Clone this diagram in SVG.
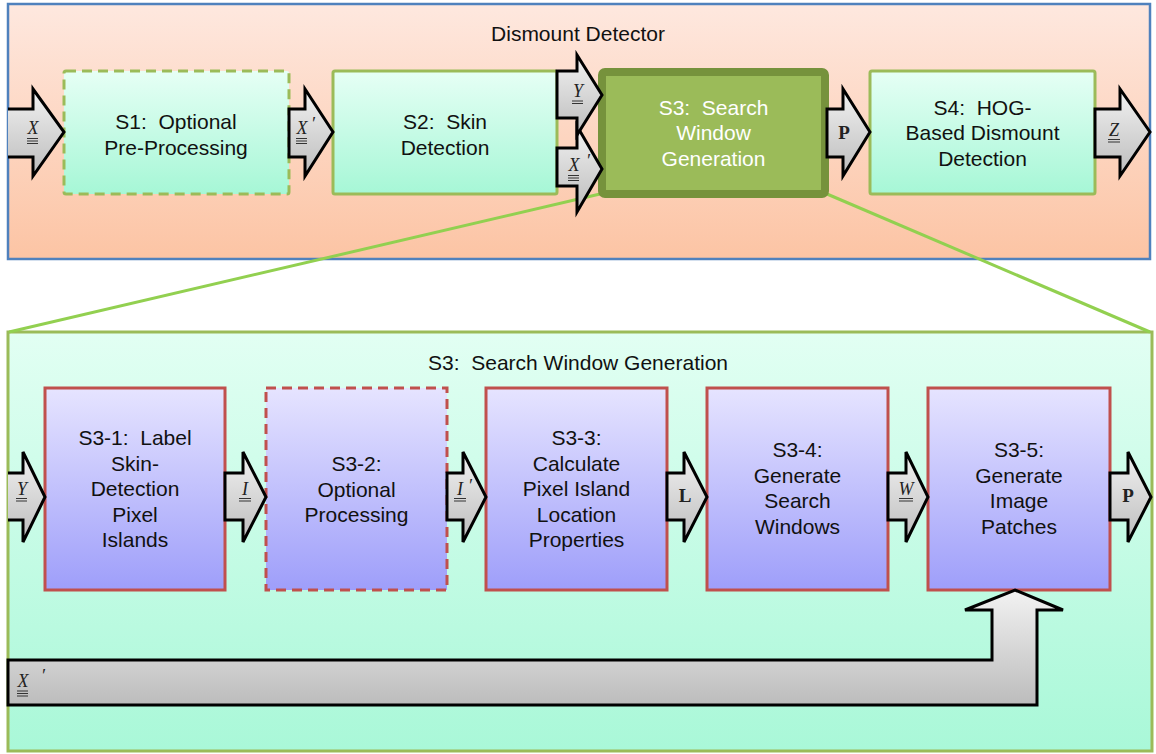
<svg xmlns="http://www.w3.org/2000/svg" width="1156" height="754" viewBox="0 0 1156 754">
<defs>
<linearGradient id="gPeach" x1="0" y1="0" x2="0" y2="1"><stop offset="0" stop-color="#fee8df"/><stop offset="1" stop-color="#fcc4a4"/></linearGradient>
<linearGradient id="gMint" x1="0" y1="0" x2="0" y2="1"><stop offset="0" stop-color="#e6fff5"/><stop offset="1" stop-color="#a6f7d6"/></linearGradient>
<linearGradient id="gMintBg" x1="0" y1="0" x2="0" y2="1"><stop offset="0" stop-color="#e2fff3"/><stop offset="1" stop-color="#a9f8d8"/></linearGradient>
<linearGradient id="gLav" x1="0" y1="0" x2="0" y2="1"><stop offset="0" stop-color="#e6e4ff"/><stop offset="1" stop-color="#9e9efa"/></linearGradient>
<linearGradient id="gGray" x1="0" y1="0" x2="0" y2="1"><stop offset="0" stop-color="#f2f2f2"/><stop offset="1" stop-color="#bcbcbc"/></linearGradient>
</defs>
<style>
.t{font-family:"Liberation Sans",Arial,sans-serif;font-size:21px;fill:#111;text-anchor:middle}
.tw{fill:#ffffff}
.m{font-family:"Liberation Serif","Times New Roman",serif;font-style:italic;font-size:18px;fill:#222;text-anchor:middle}
.b{font-family:"Liberation Serif","Times New Roman",serif;font-weight:bold;font-size:19px;fill:#222;text-anchor:middle}
.u{stroke:#333;stroke-width:1}
.arr{fill:url(#gGray);stroke:#000;stroke-width:3;stroke-linejoin:miter}
.gbox{fill:url(#gMint);stroke:#9bbb59;stroke-width:3}
.rbox{fill:url(#gLav);stroke:#c0504d;stroke-width:3}
.dash{stroke-dasharray:10 6}
.zl{stroke:#92d050;stroke-width:3;fill:none}
</style>

<g id="dismount-detector">
<rect x="8" y="4" width="1142" height="255" fill="url(#gPeach)" stroke="#4f81bd" stroke-width="2.5"/>
<text class="t" x="578" y="41">Dismount Detector</text>
</g>

<g id="s3-detail">
<rect x="8" y="332" width="1144" height="419" fill="url(#gMintBg)" stroke="#9bbb59" stroke-width="3"/>
<text class="t" x="578" y="370" xml:space="preserve">S3:  Search Window Generation</text>
</g>

<g id="zoom-lines">
<line class="zl" x1="600" y1="194" x2="9" y2="332"/>
<line class="zl" x1="827" y1="194" x2="1150" y2="332"/>
</g>

<g id="s1">
<rect class="gbox dash" x="64" y="71" width="225" height="123" rx="2"/>
<text class="t" x="176" y="128.5" xml:space="preserve">S1:  Optional</text>
<text class="t" x="176" y="154.5">Pre-Processing</text>
</g>
<g id="s2">
<rect class="gbox" x="333" y="71" width="224" height="123" rx="2"/>
<text class="t" x="445" y="128.5" xml:space="preserve">S2:  Skin</text>
<text class="t" x="445" y="154.5">Detection</text>
</g>
<g id="s3">
<rect x="602" y="72" width="223" height="122" rx="3" fill="#9bbb59" stroke="#76923c" stroke-width="8"/>
<text class="t tw" x="713.5" y="114.5" xml:space="preserve">S3:  Search</text>
<text class="t tw" x="713.5" y="140">Window</text>
<text class="t tw" x="713.5" y="165.5">Generation</text>
</g>
<g id="s4">
<rect class="gbox" x="870" y="71" width="225" height="123" rx="2"/>
<text class="t" x="982.5" y="114.5" xml:space="preserve">S4:  HOG-</text>
<text class="t" x="982.5" y="140">Based Dismount</text>
<text class="t" x="982.5" y="165.5">Detection</text>
</g>

<g id="s3-1">
<rect class="rbox" x="45" y="388" width="180" height="202"/>
<text class="t" x="135" y="445" xml:space="preserve">S3-1:  Label</text>
<text class="t" x="135" y="470.5">Skin-</text>
<text class="t" x="135" y="496">Detection</text>
<text class="t" x="135" y="521.5">Pixel</text>
<text class="t" x="135" y="547">Islands</text>
</g>
<g id="s3-2">
<rect class="rbox dash" x="266" y="388" width="181" height="202"/>
<text class="t" x="356.5" y="471">S3-2:</text>
<text class="t" x="356.5" y="496.5">Optional</text>
<text class="t" x="356.5" y="522">Processing</text>
</g>
<g id="s3-3">
<rect class="rbox" x="486" y="388" width="181" height="202"/>
<text class="t" x="576.5" y="445">S3-3:</text>
<text class="t" x="576.5" y="470.5">Calculate</text>
<text class="t" x="576.5" y="496">Pixel Island</text>
<text class="t" x="576.5" y="521.5">Location</text>
<text class="t" x="576.5" y="547">Properties</text>
</g>
<g id="s3-4">
<rect class="rbox" x="707" y="388" width="181" height="202"/>
<text class="t" x="797.5" y="457">S3-4:</text>
<text class="t" x="797.5" y="482.5">Generate</text>
<text class="t" x="797.5" y="508">Search</text>
<text class="t" x="797.5" y="533.5">Windows</text>
</g>
<g id="s3-5">
<rect class="rbox" x="928" y="388" width="182" height="202"/>
<text class="t" x="1019" y="457">S3-5:</text>
<text class="t" x="1019" y="482.5">Generate</text>
<text class="t" x="1019" y="508">Image</text>
<text class="t" x="1019" y="533.5">Patches</text>
</g>

<g id="connectors">
<!-- top row -->
<path class="arr" d="M8,109 H33 V89 L64,132 L33,176 V157 H8"/>
<text class="m" x="33" y="134">X</text>
<line class="u" x1="27" y1="138.5" x2="38" y2="138.5"/><line class="u" x1="27" y1="141" x2="38" y2="141"/><line class="u" x1="27" y1="143.5" x2="38" y2="143.5"/>

<path class="arr" d="M289,109 H305 V89 L333,132 L305,176 V157 H289 Z"/>
<text class="m" x="302" y="134">X</text><text class="m" x="313" y="130">′</text>
<line class="u" x1="296" y1="138.5" x2="307" y2="138.5"/><line class="u" x1="296" y1="141" x2="307" y2="141"/><line class="u" x1="296" y1="143.5" x2="307" y2="143.5"/>

<path class="arr" d="M557,148 H577 V126 L602,169 L577,212 V186 H557 Z"/>
<text class="m" x="574" y="171">X</text><text class="m" x="588" y="167">′</text>
<line class="u" x1="568" y1="175.5" x2="579" y2="175.5"/><line class="u" x1="568" y1="178" x2="579" y2="178"/><line class="u" x1="568" y1="180.5" x2="579" y2="180.5"/>

<path class="arr" d="M557,71 H577 V55 L602,95 L577,135 V118 H557 Z"/>
<text class="m" x="578" y="97">Y</text>
<line class="u" x1="572" y1="101" x2="583" y2="101"/><line class="u" x1="572" y1="103.5" x2="583" y2="103.5"/>

<path class="arr" d="M827,109 H843 V89 L870,132 L843,176 V157 H827 Z"/>
<text class="b" x="844" y="139">P</text>

<path class="arr" d="M1095,109 H1120 V89 L1150,132 L1120,176 V157 H1095 Z"/>
<text class="m" x="1114" y="136">Z</text>
<line class="u" x1="1108" y1="139.5" x2="1120" y2="139.5"/><line class="u" x1="1108" y1="142" x2="1120" y2="142"/>

<!-- bottom row -->
<path class="arr" d="M8,473 H23 V452 L45,497 L23,542 V520 H8"/>
<text class="m" x="22" y="495">Y</text>
<line class="u" x1="16" y1="498.5" x2="27" y2="498.5"/><line class="u" x1="16" y1="501" x2="27" y2="501"/>

<path class="arr" d="M225,473 H243 V452 L266,497 L243,542 V520 H225 Z"/>
<text class="m" x="245" y="495">I</text>
<line class="u" x1="239" y1="498.5" x2="251" y2="498.5"/><line class="u" x1="239" y1="501" x2="251" y2="501"/>

<path class="arr" d="M447,473 H463 V452 L486,497 L463,542 V520 H447 Z"/>
<text class="m" x="460" y="495">I</text><text class="m" x="470" y="492">′</text>
<line class="u" x1="454" y1="498.5" x2="466" y2="498.5"/><line class="u" x1="454" y1="501" x2="466" y2="501"/>

<path class="arr" d="M667,473 H684 V452 L707,497 L684,542 V520 H667 Z"/>
<text class="b" x="685" y="502">L</text>

<path class="arr" d="M888,473 H906 V452 L928,497 L906,542 V520 H888 Z"/>
<text class="m" x="906" y="495">W</text>
<line class="u" x1="899" y1="498.5" x2="913" y2="498.5"/><line class="u" x1="899" y1="501" x2="913" y2="501"/>

<path class="arr" d="M1110,473 H1128 V452 L1151,497 L1128,542 V520 H1110 Z"/>
<text class="b" x="1128" y="502">P</text>

<!-- bent X' arrow -->
<path class="arr" d="M8,660 H992 V610 H965 L1015,590 L1063,610 H1037 V705 H8 Z"/>
<text class="m" x="23" y="687">X</text><text class="m" x="43" y="682">′</text>
<line class="u" x1="17" y1="691" x2="28" y2="691"/><line class="u" x1="17" y1="693.5" x2="28" y2="693.5"/><line class="u" x1="17" y1="696" x2="28" y2="696"/>
</g>
</svg>
